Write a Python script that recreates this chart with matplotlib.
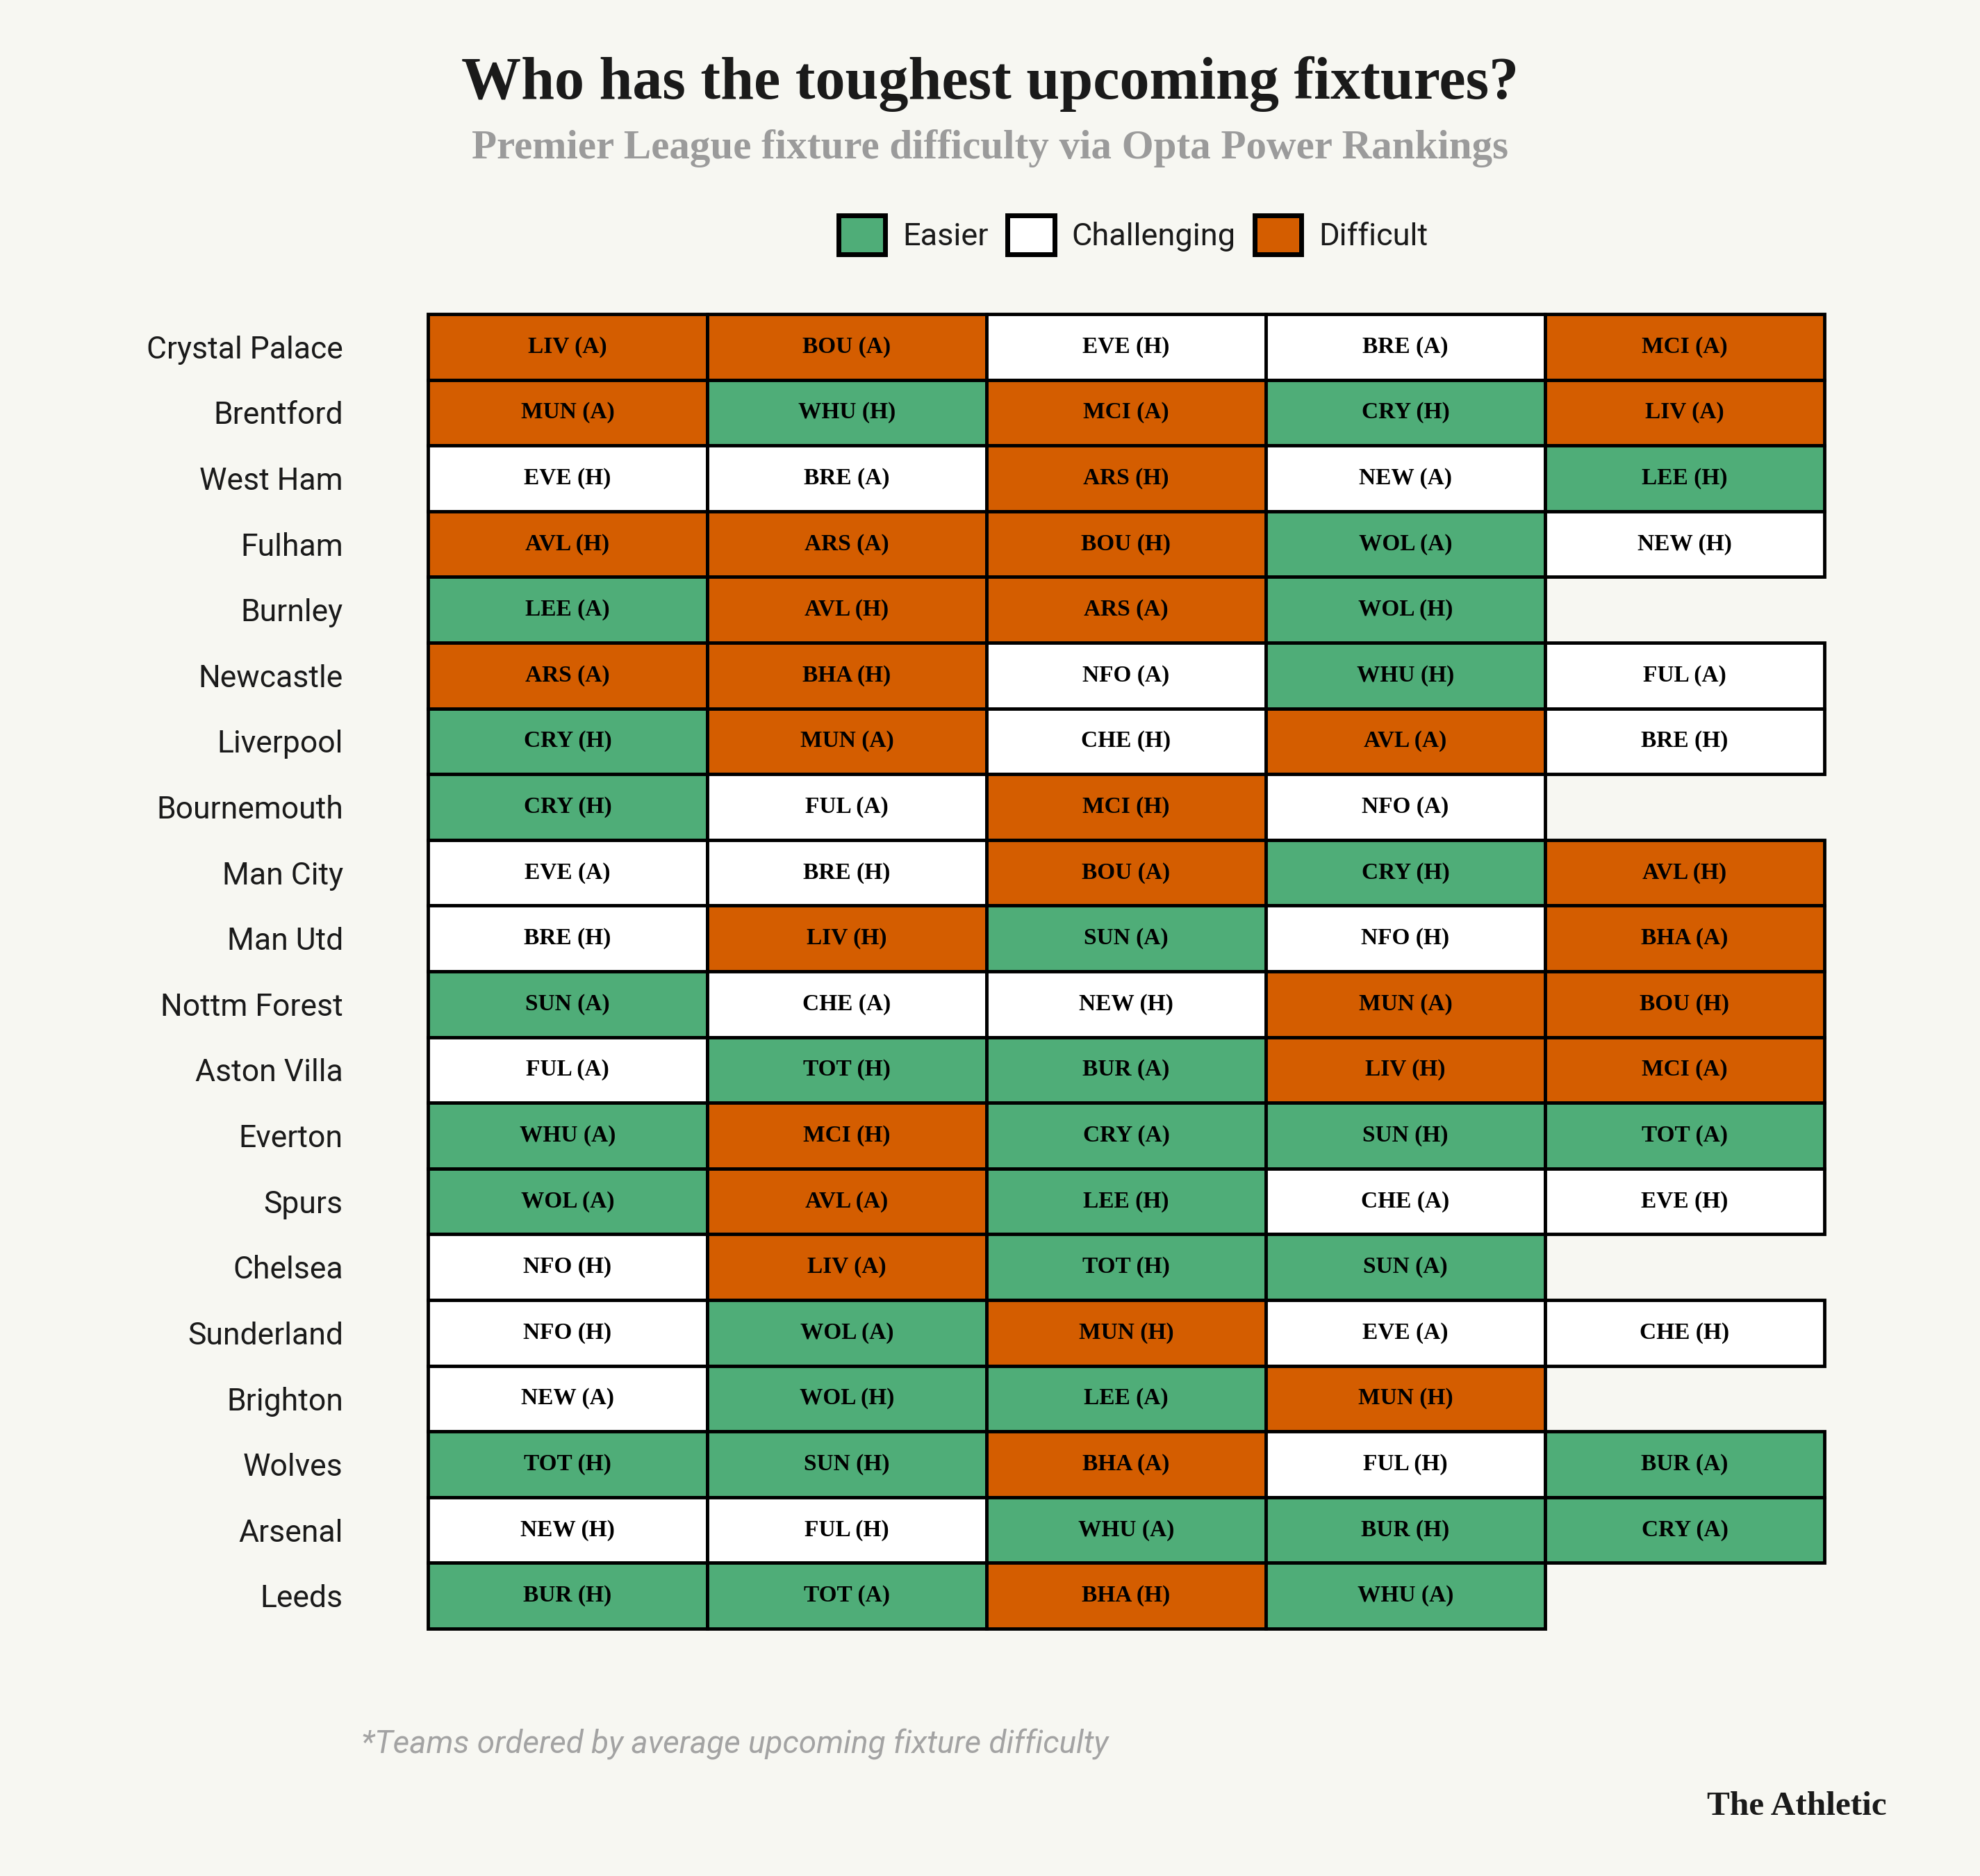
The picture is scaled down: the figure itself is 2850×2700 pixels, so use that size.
import matplotlib.pyplot as plt
from matplotlib.patches import Rectangle, Patch

# teams in the order shown (by average upcoming fixture difficulty)
teams = ["Crystal Palace", "Brentford", "West Ham", "Fulham", "Burnley",
         "Newcastle", "Liverpool", "Bournemouth", "Man City", "Man Utd",
         "Nottm Forest", "Aston Villa", "Everton", "Spurs", "Chelsea",
         "Sunderland", "Brighton", "Wolves", "Arsenal", "Leeds"]

fixtures = [
    ["LIV (A)", "BOU (A)", "EVE (H)", "BRE (A)", "MCI (A)"],
    ["MUN (A)", "WHU (H)", "MCI (A)", "CRY (H)", "LIV (A)"],
    ["EVE (H)", "BRE (A)", "ARS (H)", "NEW (A)", "LEE (H)"],
    ["AVL (H)", "ARS (A)", "BOU (H)", "WOL (A)", "NEW (H)"],
    ["LEE (A)", "AVL (H)", "ARS (A)", "WOL (H)", None],
    ["ARS (A)", "BHA (H)", "NFO (A)", "WHU (H)", "FUL (A)"],
    ["CRY (H)", "MUN (A)", "CHE (H)", "AVL (A)", "BRE (H)"],
    ["CRY (H)", "FUL (A)", "MCI (H)", "NFO (A)", None],
    ["EVE (A)", "BRE (H)", "BOU (A)", "CRY (H)", "AVL (H)"],
    ["BRE (H)", "LIV (H)", "SUN (A)", "NFO (H)", "BHA (A)"],
    ["SUN (A)", "CHE (A)", "NEW (H)", "MUN (A)", "BOU (H)"],
    ["FUL (A)", "TOT (H)", "BUR (A)", "LIV (H)", "MCI (A)"],
    ["WHU (A)", "MCI (H)", "CRY (A)", "SUN (H)", "TOT (A)"],
    ["WOL (A)", "AVL (A)", "LEE (H)", "CHE (A)", "EVE (H)"],
    ["NFO (H)", "LIV (A)", "TOT (H)", "SUN (A)", None],
    ["NFO (H)", "WOL (A)", "MUN (H)", "EVE (A)", "CHE (H)"],
    ["NEW (A)", "WOL (H)", "LEE (A)", "MUN (H)", None],
    ["TOT (H)", "SUN (H)", "BHA (A)", "FUL (H)", "BUR (A)"],
    ["NEW (H)", "FUL (H)", "WHU (A)", "BUR (H)", "CRY (A)"],
    ["BUR (H)", "TOT (A)", "BHA (H)", "WHU (A)", None],
]

# E = easier, C = challenging, D = difficult
difficulty = [
    "DDCCD", "DEDED", "CCDCE", "DDDEC", "EDDE-",
    "DDCEC", "EDCDC", "ECDC-", "CCDED", "CDECD",
    "ECCDD", "CEEDD", "EDEEE", "EDECC", "CDEE-",
    "CEDCC", "CEED-", "EEDCE", "CCEEE", "EEDE-",
]

labels = {"E": "Easier", "C": "Challenging", "D": "Difficult"}
colors = {"E": "#4FAD78", "C": "#FFFFFF", "D": "#D45D00"}
bg = "#F7F7F2"

fig = plt.figure(figsize=(28.5, 27), dpi=100, facecolor=bg)
W, H = 2850, 2700

ax = fig.add_axes([616 / W, 1 - 2344 / H, 2010 / W, 1892 / H])
ax.set_facecolor("none")
ax.set_xlim(0, 5)
ax.set_ylim(len(teams), 0)

for i, row in enumerate(fixtures):
    for j, fx in enumerate(row):
        if fx is None:
            continue
        ax.add_patch(Rectangle((j, i), 1, 1, facecolor=colors[difficulty[i][j]],
                               edgecolor="black", linewidth=3.5, clip_on=False))
        ax.text(j + 0.5, i + 0.5, fx, ha="center", va="center", fontsize=24,
                fontweight="bold", family="Liberation Serif", color="black")

ax.set_xticks([])
ax.set_yticks([i + 0.5 for i in range(len(teams))])
ax.set_yticklabels(teams, fontsize=32, family="Roboto", color="#1a1a1a")
ax.tick_params(axis="y", length=0, pad=88)
for s in ax.spines.values():
    s.set_visible(False)

fig.text(0.5, 1 - 142 / H, "Who has the toughest upcoming fixtures?", ha="center",
         va="baseline", fontsize=62, fontweight="bold", family="Liberation Serif",
         color="#1a1a1a")
fig.text(0.5, 1 - 228 / H, "Premier League fixture difficulty via Opta Power Rankings",
         ha="center", va="baseline", fontsize=42.5, fontweight="bold",
         family="Liberation Serif", color="#9b9b9b")

handles = [Patch(facecolor=colors[k], edgecolor="black", linewidth=5, label=labels[k])
           for k in "ECD"]
leg = fig.legend(handles=handles, loc="center", bbox_to_anchor=(1631 / W, 1 - 338 / H),
                 ncol=3, frameon=False, handlelength=1.5, handleheight=1.5,
                 handletextpad=0.55, columnspacing=0.6, borderpad=0,
                 prop={"family": "Roboto", "size": 32.5})
for t in leg.get_texts():
    t.set_color("#1a1a1a")

fig.text(520 / W, 1 - 2523 / H, "*Teams ordered by average upcoming fixture difficulty",
         ha="left", va="baseline", fontsize=33, style="italic", family="Roboto",
         color="#a3a3a3")
fig.text(2716 / W, 1 - 2612 / H, "The Athletic", ha="right", va="baseline",
         fontsize=35.5, fontweight="bold", family="Liberation Serif", color="#1a1a1a")

fig.savefig("out.png", dpi=100, facecolor=bg)
